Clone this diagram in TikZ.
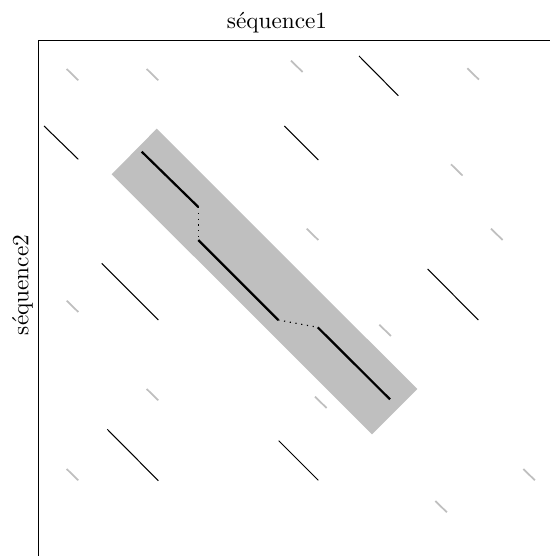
\documentclass[tikz,border=0pt]{standalone}
\usepackage{tikz}
\usetikzlibrary{positioning}
\tikzset{
	axisline/.style={draw=black, line width=0.5pt},
	seqlabel/.style={font=\normalsize, inner sep=0pt},
	shorthit/.style={draw=lightgray, line width=0.75pt},
	longhit/.style={draw=black, line width=0.45pt},
	bandfill/.style={fill=lightgray, draw=none},
	chainseg/.style={draw=black, line width=0.95pt},
	chaingap/.style={draw=black, dotted, line width=0.5pt}
}

\begin{document}
\begin{tikzpicture}[x=0.43pt, y=-0.43pt]
	\useasboundingbox (0,0) rectangle (550,556);
	% diagonale retenue
	\fill[bandfill] (156.7,128.7) -- (417.3,389) -- (372,434.3) -- (111.7,174.3) -- cycle;
	% axes
	\draw[axisline] (38.3,556) -- (38.3,40.7) -- (550,40.7);
	\node[seqlabel, anchor=base] (seqa) at (277,28.3) {séquence1};
	\node[seqlabel, anchor=base, rotate=90] (seqb) at (28.3,285) {séquence2};
	% petits mots
	\foreach \x/\y in {66.7/69, 146.7/69, 291/60.7, 467.3/68.3, 451/164.3,
		306.7/228.7, 491/228.7, 66.7/300.7, 379.3/324.7, 146.7/389,
		315/396.7, 66.7/469, 523.3/469, 435.3/501}
		\draw[shorthit] (\x,\y) -- ++(11.6,11.3);
	% longs mots
	\foreach \xa/\ya/\xb/\yb in {44/126/78.3/159.3, 284.3/126/318.3/160,
		359/56/398.3/95.7, 101.7/263.3/158.3/320, 427.7/269/478.3/320,
		107.3/429.3/158.3/480.7, 278.7/440.7/318.3/480.3}
		\draw[longhit] (\xa,\ya) -- (\xb,\yb);
	% chainage
	\coordinate (c1) at (141.7,151.7);
	\coordinate (c2) at (198.3,207);
	\coordinate (c3) at (198.3,240);
	\coordinate (c4) at (278.3,320);
	\coordinate (c5) at (317.7,327.3);
	\coordinate (c6) at (390,399.3);
	\draw[chainseg] (c1) -- (c2);
	\draw[chaingap] (c2) -- (c3);
	\draw[chainseg] (c3) -- (c4);
	\draw[chaingap] (c4) -- (c5);
	\draw[chainseg] (c5) -- (c6);
\end{tikzpicture}
\end{document}
